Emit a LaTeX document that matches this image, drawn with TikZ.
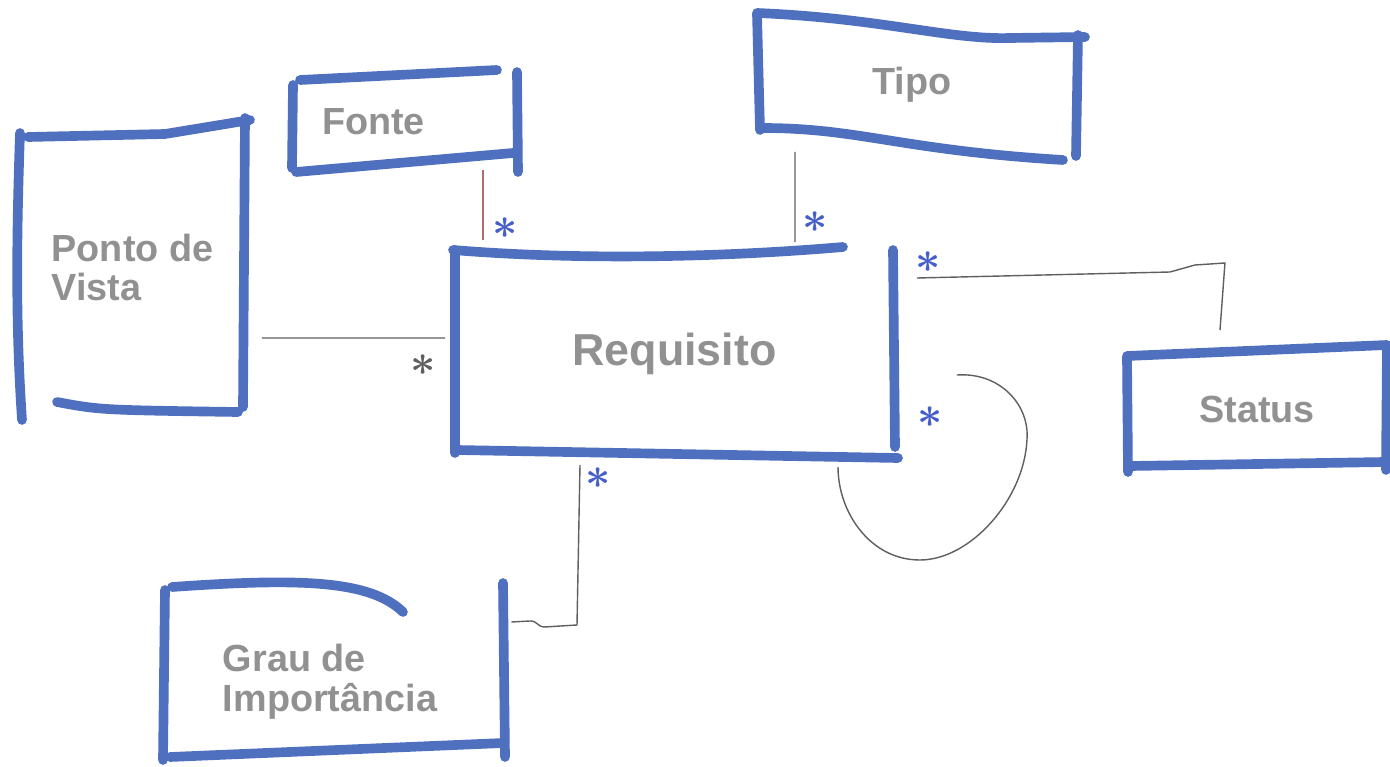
\documentclass[tikz,border=0pt]{standalone}
\usepackage{fontspec}
\setmainfont{Liberation Sans}
\usetikzlibrary{calc}
\definecolor{inkblue}{RGB}{78,112,190}
\definecolor{labelgray}{RGB}{145,145,145}
\definecolor{wiregray}{RGB}{95,95,95}
\definecolor{wirered}{RGB}{175,110,105}
\definecolor{starblue}{RGB}{70,95,200}
\begin{document}
\begin{tikzpicture}[x=0.02cm, y=-0.02cm]

    \tikzstyle{entity}=[inner sep=0pt, outer sep=0pt, text=labelgray, font=\bfseries\fontsize{21.5}{22.7}\selectfont, align=left]
    \tikzstyle{inkline}=[inkblue, line width=5.5pt, line cap=round, line join=round]
    \tikzstyle{wire}=[wiregray, line width=0.8pt]
    \tikzstyle{astx}=[text=starblue, scale=2.5, font=\boldmath, inner sep=0pt]

    \useasboundingbox (0,0) rectangle (1390,767);

    \node[entity, minimum width=4.5cm, minimum height=5.7cm] (pv) at (132.5,267.5) {Ponto de\\Vista};
    \node[entity, minimum height=1.86cm, inner xsep=0.58cm, text width=3.32cm] (fonte) at (405,121.5) {Fonte};
    \node[entity, minimum width=6.42cm, minimum height=2.6cm] (tipo) at (912,85) {Tipo};
    \node[entity, minimum width=8.78cm, minimum height=4.06cm, font=\bfseries\fontsize{25.5}{28}\selectfont] (req) at (674.5,353.5) {Requisito};
    \node[entity, minimum width=5.2cm, minimum height=2.36cm] (status) at (1257,409) {Status};
    \node[entity, minimum width=6.82cm, minimum height=3.28cm] (grau) at (330,682) {Grau de\\Importância};

    % pv
    \draw[inkline] (20,133) .. controls (16,250) and (16,330) .. (22,420);
    \draw[inkline] (28,137) -- (165,134) -- (250,120);
    \draw[inkline] (245,118) -- (243,407);
    \draw[inkline] (57,402) .. controls (100,410) .. (238,412);
    % fonte
    \draw[inkline] (300,80) -- (497,70);
    \draw[inkline] (293,85) -- (292,168);
    \draw[inkline] (296,172) -- (513,153);
    \draw[inkline] (517,72) -- (518,172);
    % tipo
    \draw[inkline] (757,13) .. controls (880,18) and (950,40) .. (1010,38) -- (1085,37);
    \draw[inkline] (757,14) -- (760,130);
    \draw[inkline] (762,128) .. controls (860,128) and (900,150) .. (1063,160);
    \draw[inkline] (1078,35) -- (1076,156);
    % req
    \draw[inkline] (453,250) .. controls (600,262) and (750,255) .. (843,247);
    \draw[inkline] (455,250) -- (455,453);
    \draw[inkline] (457,450) -- (898,458);
    \draw[inkline] (893,250) -- (895,447);
    % status
    \draw[inkline] (1127,356) -- (1387,345);
    \draw[inkline] (1127,357) -- (1128,472);
    \draw[inkline] (1130,466) -- (1385,462);
    \draw[inkline] (1387,346) -- (1386,470);
    % grau
    \draw[inkline] (165,590) -- (163,760);
    \draw[inkline] (172,587) .. controls (300,578) and (370,580) .. (403,612);
    \draw[inkline] (170,757) -- (503,743);
    \draw[inkline] (503,583) -- (505,757);

    \draw[wire, wirered] ($(fonte.south)+(78,2)$) -- ($(req.north)+(-191.5,-12)$);
    \draw[wire] ($(tipo.south)+(-117,2)$) -- ($(req.north)+(120.5,-10)$);
    \draw[wire] ($(pv.east)+(17,70.5)$) -- ($(req.west)+(-10,-15.5)$);
    \draw[wire] ($(req.east)+(23,-75.5)$) -- ++(253,-6) -- ++(25,-7) -- ++(30,-2) -- ($(status.north)+(-37,-20)$);
    \draw[wire] ($(req.east)+(63,21.5)$) .. controls +(43,-3) and +(3,-35) .. ++(70,65)
        .. controls +(-3,60) and +(50,0) .. ++(-107,120)
        .. controls +(-50,0) and +(0,45) .. ($(req.south)+(163.5,12)$);
    \draw[wire] ($(req.south)+(-94.5,10)$) -- ++(-3,160) -- ++(-32,2) .. controls +(-8,0) and +(8,0) .. ++(-15,-6) -- ($(grau.east)+(11,-60)$);

    \foreach \n/\x/\y in {sfonte/505/228, stipo/815/222, sstatus/928/262, sself/930/417, sgrau/598/478}
        \node[astx] (\n) at (\x,\y) {$\ast$};
    \node[astx, text=wiregray] (spv) at (423,365) {$\ast$};

\end{tikzpicture}
\end{document}
